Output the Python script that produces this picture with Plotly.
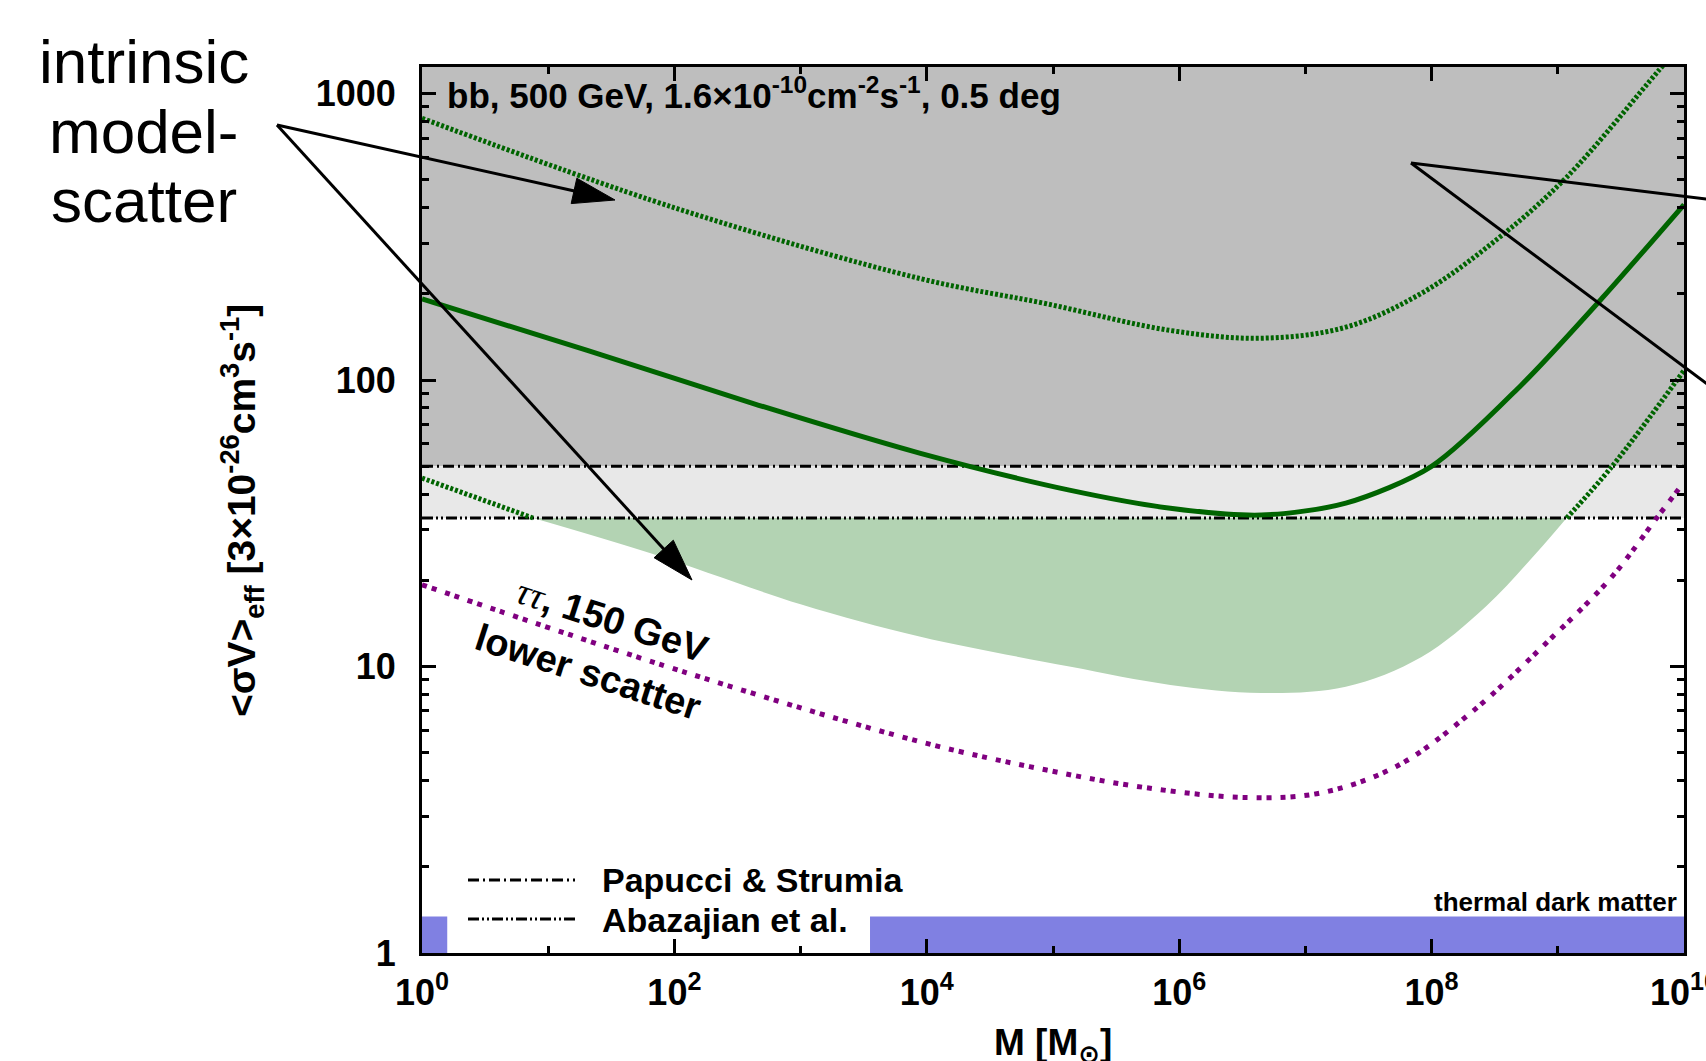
import plotly.graph_objects as go

# ---------------- data ----------------
papucci_limit = 50.0        # <sigma v> limit, Papucci & Strumia
abazajian_limit = 33.0      # <sigma v> limit, Abazajian et al.
fill_top = 3000.0           # excluded region extends beyond plot top

median_logM = [0.0, 1.31, 2.62, 3.95, 5.13, 5.93, 6.65, 7.32, 8.0, 8.71, 9.35, 10.0]
median_sv = [192, 127, 83, 55.5, 41.3, 35.7, 33.8, 37.2, 50, 96, 193, 410]

upper_logM = [0.0, 1.99, 3.95, 4.94, 5.93, 6.65, 7.32, 7.92, 8.51, 9.07, 9.8, 10.0]
upper_sv = [820, 401, 226, 185, 149, 140, 153, 201, 308, 511, 1205, 1520]

lower_logM = [0.0, 0.88, 1.83, 3.0, 3.95, 5.13, 5.93, 6.65, 7.32, 7.92, 8.43, 8.83, 9.07, 9.43, 10.0]
lower_sv = [45.5, 33.0, 24.7, 16.5, 12.7, 10.0, 8.63, 8.09, 8.5, 10.8, 16.2, 24.9, 33.0, 50, 108]

tautau_logM = [0.0, 2.1, 3.95, 4.94, 5.73, 6.53, 7.12, 7.72, 8.31, 8.91, 9.43, 9.79, 10.0]
tautau_sv = [19.3, 9.5, 5.46, 4.36, 3.78, 3.49, 3.62, 4.48, 6.89, 12.1, 20.6, 33.3, 44]

thermal_lo, thermal_hi = 1.0, 1.34
thermal_segments_logM = [(0.0, 0.2), (3.55, 10.0)]

x_tick_exp = [0, 2, 4, 6, 8, 10]
x_minor_exp = [1, 3, 5, 7, 9]
y_tick_vals = [1, 10, 100, 1000]
y_tick_text = ["1", "10", "100", "1000"]

# ---------------- layout helpers ----------------
W, H = 1706, 1061
ML, MR, MT, MB = 422, 22, 67, 108
PW, PH = W - ML - MR, H - MT - MB
FONT = "Liberation Sans, Arial, DejaVu Sans, sans-serif"


def px(x):
    return (x - ML) / PW


def py(y):
    return (H - MB - y) / PH


def M(lst):
    return [10 ** v for v in lst]


GREEN = "rgb(0,100,0)"
fig = go.Figure()

# excluded regions
fig.add_trace(go.Scatter(x=M([0, 10, 10, 0]), y=[papucci_limit, papucci_limit, fill_top, fill_top],
                         fill="toself", fillcolor="rgb(190,190,190)", line=dict(width=0),
                         mode="lines", hoverinfo="skip"))
fig.add_trace(go.Scatter(x=M([0, 10, 10, 0]), y=[abazajian_limit, abazajian_limit, papucci_limit, papucci_limit],
                         fill="toself", fillcolor="rgb(232,232,232)", line=dict(width=0),
                         mode="lines", hoverinfo="skip"))

# lower-scatter region below the Abazajian limit
sel = [i for i, v in enumerate(lower_sv) if v <= abazajian_limit]
fig.add_trace(go.Scatter(x=M([lower_logM[i] for i in sel]), y=[lower_sv[i] for i in sel],
                         mode="lines", line=dict(width=0, shape="spline"), hoverinfo="skip"))
fig.add_trace(go.Scatter(x=M([lower_logM[sel[0]], lower_logM[sel[-1]]]), y=[abazajian_limit, abazajian_limit],
                         mode="lines", line=dict(width=0), fill="tonexty",
                         fillcolor="rgb(179,211,179)", hoverinfo="skip"))

# thermal dark matter band
for a, b in thermal_segments_logM:
    fig.add_trace(go.Scatter(x=M([a, b, b, a]), y=[thermal_lo, thermal_lo, thermal_hi, thermal_hi],
                             fill="toself", fillcolor="rgb(128,128,226)", line=dict(width=0),
                             mode="lines", hoverinfo="skip"))

# limits
DASH_P = "11px,4px,2px,4px"
DASH_A = "11px,3px,2px,3px,2px,3px"
fig.add_trace(go.Scatter(x=M([0, 10]), y=[papucci_limit] * 2, mode="lines",
                         line=dict(color="black", width=3, dash=DASH_P)))
fig.add_trace(go.Scatter(x=M([0, 10]), y=[abazajian_limit] * 2, mode="lines",
                         line=dict(color="black", width=3, dash=DASH_A)))

# scatter bounds (dotted green)
DOT_G = "3px,2px"
fig.add_trace(go.Scatter(x=M(upper_logM), y=upper_sv, mode="lines",
                         line=dict(color=GREEN, width=5, dash=DOT_G, shape="spline")))
n = len(lower_sv)
left = [i for i in range(n) if i <= sel[0]]
right = [i for i in range(n) if i >= sel[-1]]
for seg_idx in (left, right):
    fig.add_trace(go.Scatter(x=M([lower_logM[i] for i in seg_idx]), y=[lower_sv[i] for i in seg_idx],
                             mode="lines", line=dict(color=GREEN, width=5, dash=DOT_G, shape="spline")))

# median
fig.add_trace(go.Scatter(x=M(median_logM), y=median_sv, mode="lines",
                         line=dict(color=GREEN, width=5, shape="spline", smoothing=0.8)))
# tau tau 150 GeV lower scatter
fig.add_trace(go.Scatter(x=M(tautau_logM), y=tautau_sv, mode="lines",
                         line=dict(color="rgb(128,0,128)", width=5, dash="5px,5px,5px,9px", shape="spline")))

# ---------------- axes ----------------
fig.update_xaxes(type="log", range=[0, 10], showline=True, linecolor="black", linewidth=3,
                 mirror="allticks", ticks="inside", ticklen=14, tickwidth=2.5, tickcolor="black",
                 tickmode="array", tickvals=[10 ** e for e in x_tick_exp],
                 ticktext=["10<sup>%d</sup>" % e for e in x_tick_exp],
                 tickfont=dict(family=FONT, size=36, color="black", weight="bold"),
                 ticklabelstandoff=6, ticklabeloverflow="allow",
                 minor=dict(ticks="inside", ticklen=7, tickwidth=2.5, tickcolor="black",
                            tickmode="array", tickvals=[10 ** e for e in x_minor_exp]),
                 showgrid=False, zeroline=False)
y_minor = [m * 10 ** d for d in range(0, 4) for m in range(2, 10)]
fig.update_yaxes(type="log", range=[0, 3.093], showline=True, linecolor="black", linewidth=3,
                 mirror="allticks", ticks="inside", ticklen=14, tickwidth=2.5, tickcolor="black",
                 tickmode="array", tickvals=y_tick_vals, ticktext=y_tick_text,
                 tickfont=dict(family=FONT, size=36, color="black", weight="bold"),
                 ticklabelstandoff=16, ticklabeloverflow="allow",
                 minor=dict(ticks="inside", ticklen=7, tickwidth=2.5, tickcolor="black",
                            tickmode="array", tickvals=y_minor),
                 showgrid=False, zeroline=False)

# ---------------- annotations ----------------
ann = []


def text(x, y, s, size, bold=True, xanchor="center", yanchor="middle", angle=0, family=FONT):
    ann.append(dict(x=px(x), y=py(y), xref="paper", yref="paper", text=s, showarrow=False,
                    xanchor=xanchor, yanchor=yanchor, textangle=angle,
                    font=dict(family=family, size=size, color="black", weight="bold" if bold else "normal")))


text(445, 117, "bb, 500 GeV, 1.6×10<sup>-10</sup>cm<sup>-2</sup>s<sup>-1</sup>, 0.5 deg", 35, yanchor="bottom", xanchor="left")
text(1679, 902, "thermal dark matter", 26, xanchor="right")
text(600, 880, "Papucci &amp; Strumia", 34, xanchor="left")
text(600, 920, "Abazajian et al.", 34, xanchor="left")
text(612, 620, "<span style='font-family:Liberation Serif;font-style:italic;font-weight:normal'>ττ</span>, 150 GeV", 38, angle=18)
text(588, 672, "lower scatter", 38, angle=18)
text(242, 511, "&lt;σV&gt;<sub>eff</sub> [3×10<sup>-26</sup>cm<sup>3</sup>s<sup>-1</sup>]", 39, angle=-90)
text(1053, 1020, "M [M<sub>⊙</sub>]", 37, yanchor="top")
text(144, 61, "intrinsic", 62, bold=False)
text(144, 131, "model-", 62, bold=False)
text(144, 200, "scatter", 62, bold=False)

# ---------------- shapes: legend samples, arrows ----------------
shapes = []


def seg(x0, y0, x1, y1, width=2.5, dash="solid"):
    shapes.append(dict(type="line", xref="paper", yref="paper", x0=px(x0), y0=py(y0), x1=px(x1), y1=py(y1),
                       line=dict(color="black", width=width, dash=dash), layer="above"))


seg(468, 880, 575, 880, width=3, dash=DASH_P)
seg(468, 919, 575, 919, width=3, dash=DASH_A)


def arrow(tx, ty, hx, hy, L=42, Wd=13):
    import math
    dx, dy = hx - tx, hy - ty
    d = math.hypot(dx, dy)
    ux, uy = dx / d, dy / d
    nx, ny = -uy, ux
    bx, by = hx - L * ux, hy - L * uy
    seg(tx, ty, bx + 4 * ux, by + 4 * uy, width=3)
    pts = [(hx, hy), (bx + Wd * nx, by + Wd * ny), (bx - Wd * nx, by - Wd * ny)]
    path = "M " + " L ".join("%f,%f" % (px(a), py(b)) for a, b in pts) + " Z"
    shapes.append(dict(type="path", xref="paper", yref="paper", path=path,
                       fillcolor="black", line=dict(color="black", width=1), layer="above"))


arrow(277, 125, 615, 200)
arrow(277, 125, 692, 580)
seg(1411, 163, 1722, 201, width=3)
seg(1411, 163, 1722, 395, width=3)

fig.update_layout(width=W, height=H, margin=dict(l=ML, r=MR, t=MT, b=MB, autoexpand=False),
                  paper_bgcolor="white", plot_bgcolor="white", showlegend=False,
                  font=dict(family=FONT, color="black"),
                  annotations=ann, shapes=shapes)

fig.write_html("out.html", config={"displayModeBar": False},
               post_script="document.body.style.margin='0px';document.body.style.overflow='hidden';")
